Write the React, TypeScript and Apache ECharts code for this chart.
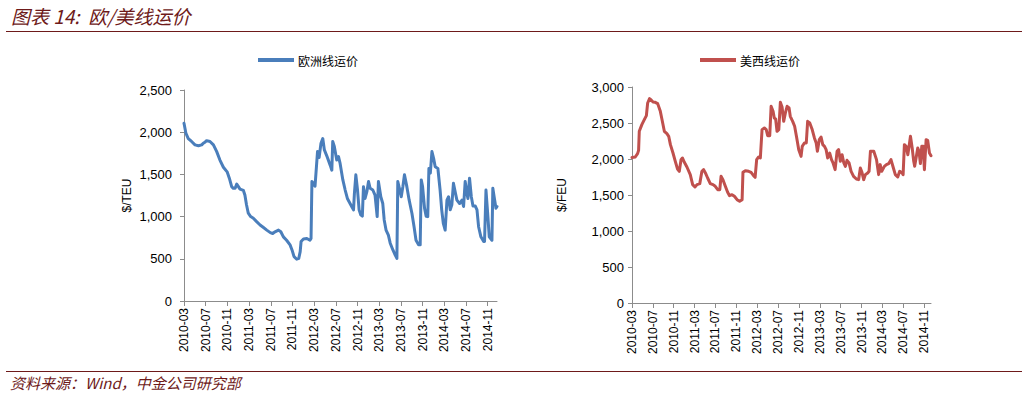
import React, { useEffect, useRef } from "react";
import * as echarts from "echarts";

const xTickLabels = [
  "2010-03", "2010-07", "2010-11", "2011-03", "2011-07", "2011-11", "2012-03", "2012-07",
  "2012-11", "2013-03", "2013-07", "2013-11", "2014-03", "2014-07", "2014-11",
];

const euDates = [
  "2010-03-01", "2010-03-12", "2010-03-25", "2010-04-13", "2010-05-02", "2010-05-21", "2010-06-09", "2010-06-18",
  "2010-06-29", "2010-07-06", "2010-07-25", "2010-08-14", "2010-09-02", "2010-09-20", "2010-10-09", "2010-10-30",
  "2010-11-12", "2010-11-25", "2010-12-04", "2010-12-14", "2010-12-23", "2011-01-02", "2011-01-11", "2011-01-30",
  "2011-02-08", "2011-02-17", "2011-02-27", "2011-03-10", "2011-03-25", "2011-04-13", "2011-05-02", "2011-05-21",
  "2011-06-09", "2011-06-29", "2011-07-12", "2011-07-25", "2011-08-14", "2011-08-27", "2011-09-11", "2011-09-29",
  "2011-10-18", "2011-10-29", "2011-11-10", "2011-11-25", "2011-12-06", "2011-12-14", "2011-12-19", "2012-01-02",
  "2012-01-21", "2012-02-08", "2012-02-14", "2012-02-19", "2012-02-27", "2012-03-06", "2012-03-20", "2012-03-29",
  "2012-04-09", "2012-04-19", "2012-04-28", "2012-05-11", "2012-05-30", "2012-06-09", "2012-06-14", "2012-06-23",
  "2012-07-06", "2012-07-16", "2012-07-25", "2012-08-10", "2012-08-23", "2012-09-05", "2012-09-20", "2012-09-29",
  "2012-10-09", "2012-10-14", "2012-10-22", "2012-11-01", "2012-11-10", "2012-11-19", "2012-11-28", "2012-12-04",
  "2012-12-13", "2012-12-23", "2013-01-02", "2013-01-11", "2013-01-26", "2013-02-08", "2013-02-20", "2013-02-27",
  "2013-03-10", "2013-03-21", "2013-03-29", "2013-04-09", "2013-04-22", "2013-05-02", "2013-05-17", "2013-05-30",
  "2013-06-09", "2013-06-14", "2013-06-23", "2013-07-03", "2013-07-12", "2013-07-21", "2013-08-04", "2013-08-17",
  "2013-09-02", "2013-09-14", "2013-09-25", "2013-10-09", "2013-10-18", "2013-10-24", "2013-11-01", "2013-11-12",
  "2013-11-21", "2013-11-30", "2013-12-06", "2013-12-14", "2013-12-23", "2014-01-02", "2014-01-11", "2014-01-26",
  "2014-02-08", "2014-02-17", "2014-02-26", "2014-03-06", "2014-03-16", "2014-03-25", "2014-04-04", "2014-04-13",
  "2014-04-22", "2014-05-03", "2014-05-11", "2014-05-26", "2014-06-09", "2014-06-18", "2014-06-27", "2014-07-06",
  "2014-07-12", "2014-07-21", "2014-07-31", "2014-08-10", "2014-08-23", "2014-09-02", "2014-09-11", "2014-09-24",
  "2014-10-09", "2014-10-14", "2014-10-22", "2014-11-01", "2014-11-10", "2014-11-25", "2014-11-30", "2014-12-10",
  "2014-12-17", "2014-12-23",
];
const euValues = [
  2105, 1985, 1925, 1890, 1850, 1840, 1850, 1870,
  1885, 1900, 1890, 1850, 1770, 1670, 1585, 1530,
  1455, 1355, 1335, 1335, 1385, 1355, 1325, 1310,
  1255, 1140, 1040, 1000, 980, 940, 900, 870,
  840, 810, 800, 820, 840, 820, 760, 720,
  665, 605, 525, 495, 505, 585, 705, 735,
  740, 720, 740, 1415, 1395, 1360, 1770, 1700,
  1870, 1925, 1790, 1720, 1610, 1550, 1890, 1830,
  1670, 1710, 1630, 1435, 1315, 1215, 1155, 1120,
  1080, 1275, 1495, 1315, 1080, 1020, 1005, 1355,
  1215, 1295, 1415, 1335, 1315, 1255, 1000, 1415,
  1235, 1155, 960, 840, 780, 685, 605, 545,
  505, 1415, 1335, 1235, 1355, 1495, 1355, 1195,
  1040, 880, 720, 665, 665, 1435, 1355, 1100,
  1005, 1000, 1570, 1515, 1770, 1690, 1590, 1570,
  1315, 1080, 920, 840, 1195, 1235, 1080, 1140,
  1395, 1275, 1195, 1155, 1195, 1120, 1415, 1275,
  1215, 1455, 1235, 1125, 1125, 1080, 880, 760,
  705, 705, 1315, 1040, 760, 720, 1335, 1195,
  1100, 1120,
];

const usDates = [
  "2010-03-01", "2010-03-20", "2010-04-03", "2010-04-09", "2010-04-13", "2010-04-28", "2010-05-12", "2010-05-24",
  "2010-06-01", "2010-06-12", "2010-06-20", "2010-07-02", "2010-07-15", "2010-07-29", "2010-08-14", "2010-08-24",
  "2010-09-07", "2010-09-22", "2010-10-02", "2010-10-12", "2010-10-27", "2010-11-10", "2010-11-23", "2010-12-03",
  "2010-12-13", "2010-12-21", "2011-01-02", "2011-01-17", "2011-02-06", "2011-02-20", "2011-03-03", "2011-03-15",
  "2011-03-31", "2011-04-13", "2011-04-23", "2011-05-03", "2011-05-16", "2011-06-01", "2011-06-17", "2011-06-30",
  "2011-07-14", "2011-07-26", "2011-08-03", "2011-08-14", "2011-08-28", "2011-09-11", "2011-09-22", "2011-10-06",
  "2011-10-20", "2011-11-05", "2011-11-20", "2011-12-04", "2011-12-09", "2011-12-23", "2012-01-12", "2012-01-26",
  "2012-02-10", "2012-02-19", "2012-02-28", "2012-03-09", "2012-03-19", "2012-03-29", "2012-04-12", "2012-04-23",
  "2012-05-01", "2012-05-13", "2012-05-21", "2012-06-02", "2012-06-09", "2012-06-17", "2012-06-25", "2012-07-05",
  "2012-07-14", "2012-07-24", "2012-08-03", "2012-08-13", "2012-08-23", "2012-09-04", "2012-09-11", "2012-09-25",
  "2012-10-06", "2012-10-16", "2012-10-30", "2012-11-13", "2012-11-20", "2012-12-02", "2012-12-13", "2012-12-21",
  "2013-01-03", "2013-01-16", "2013-01-30", "2013-02-10", "2013-02-17", "2013-02-28", "2013-03-08", "2013-03-18",
  "2013-03-28", "2013-04-07", "2013-04-16", "2013-04-28", "2013-05-08", "2013-05-17", "2013-05-29", "2013-06-10",
  "2013-06-19", "2013-06-29", "2013-07-09", "2013-07-19", "2013-07-28", "2013-08-07", "2013-08-19", "2013-08-31",
  "2013-09-15", "2013-10-01", "2013-10-14", "2013-10-24", "2013-11-03", "2013-11-13", "2013-11-23", "2013-12-06",
  "2013-12-14", "2013-12-22", "2014-01-11", "2014-01-27", "2014-02-09", "2014-02-18", "2014-02-27", "2014-03-12",
  "2014-03-24", "2014-04-07", "2014-04-20", "2014-05-02", "2014-05-15", "2014-05-29", "2014-06-10", "2014-06-24",
  "2014-06-30", "2014-07-07", "2014-07-17", "2014-07-27", "2014-08-04", "2014-08-12", "2014-08-22", "2014-08-31",
  "2014-09-06", "2014-09-16", "2014-09-24", "2014-10-01", "2014-10-09", "2014-10-17", "2014-10-25", "2014-11-02",
  "2014-11-12", "2014-11-21", "2014-12-01", "2014-12-10",
];
const usValues = [
  2020, 2028, 2074, 2120, 2385, 2477, 2546, 2602,
  2778, 2838, 2824, 2792, 2787, 2769, 2662, 2546,
  2385, 2352, 2315, 2199, 2083, 1968, 1861, 1829,
  1991, 2014, 1954, 1889, 1783, 1644, 1611, 1644,
  1658, 1829, 1852, 1806, 1736, 1658, 1644, 1621,
  1574, 1574, 1759, 1713, 1621, 1537, 1491, 1505,
  1482, 1435, 1412, 1435, 1815, 1838, 1829, 1815,
  1769, 1746, 1991, 2028, 2014, 2408, 2431, 2408,
  2324, 2324, 2732, 2662, 2570, 2556, 2385, 2408,
  2787, 2722, 2523, 2639, 2732, 2709, 2593, 2523,
  2454, 2324, 2130, 2037, 2176, 2222, 2222, 2523,
  2500, 2417, 2292, 2222, 2107, 2269, 2306, 2199,
  2176, 2130, 2014, 2083, 1991, 1945, 1852, 2107,
  2130, 1968, 2060, 1945, 1898, 1982, 1945, 1829,
  1759, 1722, 1713, 1875, 1815, 1713, 1783, 1806,
  1829, 2107, 2107, 1991, 1783, 1922, 1829, 1898,
  1922, 1936, 1991, 1889, 1783, 1750, 1829, 1806,
  1783, 2199, 2176, 2060, 2176, 2315, 2153, 1968,
  1898, 2037, 2153, 2107, 1936, 2176, 2176, 1852,
  2269, 2260, 2083, 2046,
];

const euName = "欧洲线运价";
const usName = "美西线运价";

// months elapsed since 2010-03-01
const monthOffset = (d: string) => {
  const [y, m, day] = d.split("-").map(Number);
  return (y - 2010) * 12 + (m - 3) + (day - 1) / 30.4;
};

const MAROON = "#6e1a1a";
const AXIS = "#8c8c8c";
const LATIN = "'Liberation Sans', Arial, sans-serif";
const CJK = "'Noto Sans CJK SC', sans-serif";

export default function App() {
  const ref = useRef<HTMLDivElement>(null);
  useEffect(() => {
    if (!ref.current) return;
    const chart = echarts.init(ref.current, undefined, { renderer: "svg" });
    const euData = euDates.map((d, i) => [monthOffset(d), euValues[i]]);
    const usData = usDates.map((d, i) => [monthOffset(d), usValues[i]]);
    const euMax = monthOffset(euDates[euDates.length - 1]);
    const usMax = monthOffset(usDates[usDates.length - 1]);

    const xAxisBase = (gridIndex: number, max: number) => ({
      type: "value",
      gridIndex,
      min: 0,
      max,
      interval: 4,
      splitLine: { show: false },
      axisLine: { lineStyle: { color: AXIS, width: 1 } },
      axisTick: { show: true, length: 5, lineStyle: { color: AXIS } },
      axisLabel: {
        rotate: 90,
        margin: 7,
        fontSize: 12,
        color: "#000",
        fontFamily: LATIN,
        showMaxLabel: false,
        formatter: (v: number) => {
          const idx = Math.round(v / 4);
          return Math.abs(v - idx * 4) < 1e-6 ? xTickLabels[idx] ?? "" : "";
        },
      },
    });
    const yAxisBase = (gridIndex: number, max: number, name: string, nameGap: number, margin: number) => ({
      type: "value",
      gridIndex,
      min: 0,
      max,
      interval: 500,
      name,
      nameLocation: "middle",
      nameGap,
      nameRotate: 90,
      nameTextStyle: { fontSize: 12, color: "#000", fontFamily: LATIN },
      splitLine: { show: false },
      axisLine: { show: true, lineStyle: { color: AXIS, width: 1 } },
      axisTick: { show: true, length: 4, lineStyle: { color: AXIS } },
      axisLabel: {
        margin,
        fontSize: 13,
        color: "#000",
        fontFamily: LATIN,
        formatter: (v: number) => v.toLocaleString("en-US"),
      },
    });

    const legendBase = (name: string, left: number) => ({
      data: [name],
      left,
      top: 54,
      padding: 0,
      icon: "rect",
      itemWidth: 36,
      itemHeight: 4,
      itemGap: 4,
      textStyle: { fontSize: 12, color: "#000", fontFamily: CJK, padding: [0, 0, 0, -1] },
    });

    chart.setOption({
      animation: false,
      backgroundColor: "#fff",
      grid: [
        { left: 184, top: 90, width: 313, height: 211 },
        { left: 632, top: 87, width: 299, height: 216 },
      ],
      xAxis: [xAxisBase(0, euMax), xAxisBase(1, usMax)],
      yAxis: [yAxisBase(0, 2500, "$/TEU", 51, 12), yAxisBase(1, 3000, "$/FEU", 64, 8)],
      legend: [legendBase(euName, 258), legendBase(usName, 700)],
      series: [
        {
          name: euName,
          type: "line",
          xAxisIndex: 0,
          yAxisIndex: 0,
          data: euData,
          showSymbol: false,
          color: "#4a7ebb",
          lineStyle: { width: 3, color: "#4a7ebb", join: "round", cap: "round" },
        },
        {
          name: usName,
          type: "line",
          xAxisIndex: 1,
          yAxisIndex: 1,
          data: usData,
          showSymbol: false,
          color: "#c0504d",
          lineStyle: { width: 3, color: "#c0504d", join: "round", cap: "round" },
        },
      ],
      graphic: [
        {
          type: "text",
          left: 11,
          top: 6,
          style: {
            text: "图表 14:  欧/美线运价",
            fontSize: 19,
            fontStyle: "italic",
            fontFamily: CJK,
            fill: MAROON,
          },
        },
        {
          type: "line",
          shape: { x1: 6, y1: 31.5, x2: 1022, y2: 31.5 },
          style: { stroke: MAROON, lineWidth: 1 },
        },
        {
          type: "line",
          shape: { x1: 6, y1: 371.5, x2: 1022, y2: 371.5 },
          style: { stroke: MAROON, lineWidth: 1 },
        },
        {
          type: "text",
          left: 10,
          top: 375,
          style: {
            text: "资料来源：Wind，中金公司研究部",
            fontSize: 15,
            fontStyle: "italic",
            fontFamily: CJK,
            fill: MAROON,
          },
        },
      ],
    });
    return () => chart.dispose();
  }, []);

  return (
    <div
      ref={ref}
      style={{ position: "fixed", left: 0, top: 0, width: 1028, height: 396, background: "#fff" }}
    />
  );
}
